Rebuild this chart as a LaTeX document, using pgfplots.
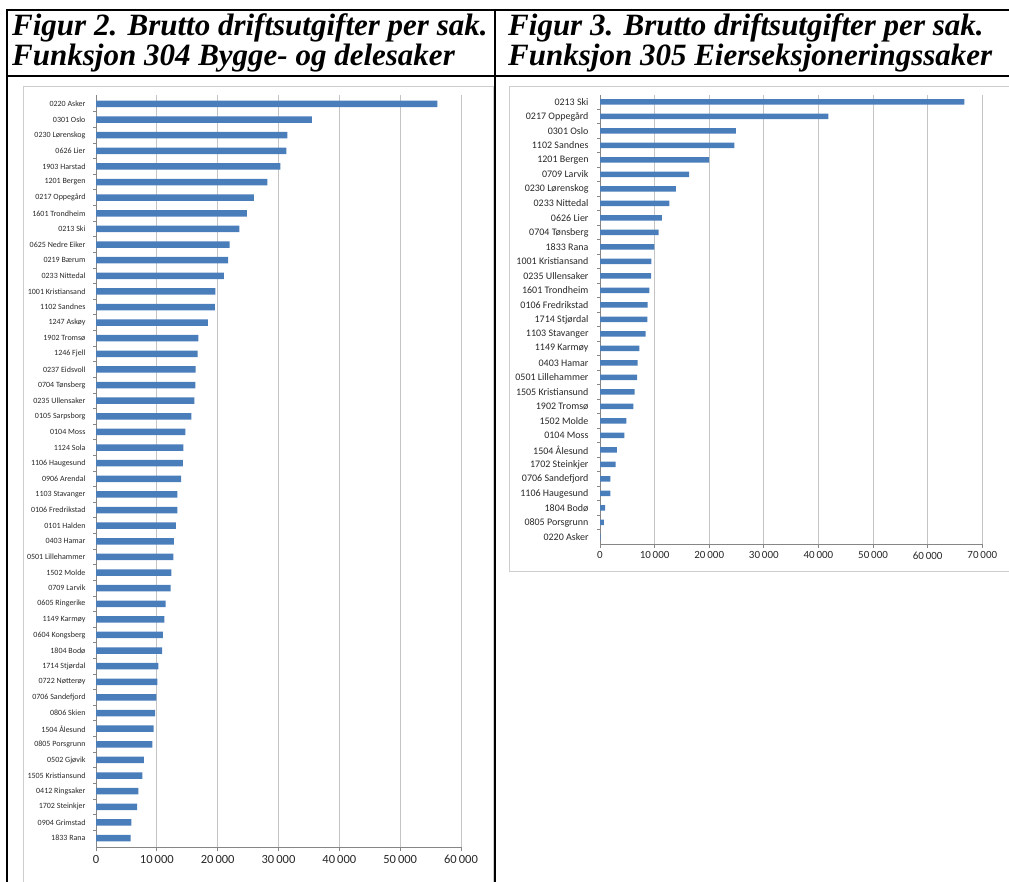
\documentclass[border=0pt]{standalone}
\usepackage{pgfplots}
\pgfplotsset{compat=1.18}
\usepackage{pgfplotstable}
\usepackage{fontspec}
\setmainfont{Liberation Serif}
\newfontfamily\calibri{Carlito}

\definecolor{barblue}{RGB}{74,126,187}
\definecolor{gridgray}{RGB}{196,196,196}
\definecolor{axisgray}{RGB}{134,134,134}
\definecolor{framegray}{RGB}{205,205,205}
\definecolor{labelgray}{RGB}{40,40,40}

% Figur 2: funksjon 304
\pgfplotstableread[col sep=comma]{
label,value
0220 Asker,56100
0301 Oslo,35500
0230 Lørenskog,31450
0626 Lier,31290
1903 Harstad,30300
1201 Bergen,28170
0217 Oppegård,25970
1601 Trondheim,24820
0213 Ski,23560
0625 Nedre Eiker,21980
0219 Bærum,21700
0233 Nittedal,21040
1001 Kristiansand,19620
1102 Sandnes,19560
1247 Askøy,18410
1902 Tromsø,16820
1246 Fjell,16710
0237 Eidsvoll,16380
0704 Tønsberg,16330
0235 Ullensaker,16160
0105 Sarpsborg,15670
0104 Moss,14680
1124 Sola,14360
1106 Haugesund,14300
0906 Arendal,13990
1103 Stavanger,13370
0106 Fredrikstad,13370
0101 Halden,13150
0403 Hamar,12820
0501 Lillehammer,12710
1502 Molde,12380
0709 Larvik,12270
0605 Ringerike,11450
1149 Karmøy,11230
0604 Kongsberg,11010
1804 Bodø,10850
1714 Stjørdal,10240
0722 Nøtterøy,10080
0706 Sandefjord,9910
0806 Skien,9700
1504 Ålesund,9480
0805 Porsgrunn,9260
0502 Gjøvik,7890
1505 Kristiansund,7620
0412 Ringsaker,6960
1702 Steinkjer,6740
0904 Grimstad,5810
1833 Rana,5700
}\lefttbl

% Figur 3: funksjon 305
\pgfplotstableread[col sep=comma]{
label,value
0213 Ski,66700
0217 Oppegård,41800
0301 Oslo,24900
1102 Sandnes,24600
1201 Bergen,20000
0709 Larvik,16300
0230 Lørenskog,13900
0233 Nittedal,12700
0626 Lier,11350
0704 Tønsberg,10750
1833 Rana,9950
1001 Kristiansand,9400
0235 Ullensaker,9340
1601 Trondheim,9030
0106 Fredrikstad,8730
1714 Stjørdal,8670
1103 Stavanger,8370
1149 Karmøy,7200
0403 Hamar,6900
0501 Lillehammer,6780
1505 Kristiansund,6350
1902 Tromsø,6100
1502 Molde,4820
0104 Moss,4450
1504 Ålesund,3110
1702 Steinkjer,2870
0706 Sandefjord,1890
1106 Haugesund,1890
1804 Bodø,920
0805 Porsgrunn,730
0220 Asker,100
}\righttbl

\pgfplotsset{
  excelbar/.style={
    xbar, scale only axis, xmin=0,
    axis x line*=bottom, axis y line*=left,
    axis line style={axisgray, line width=0.8pt},
    xmajorgrids, major grid style={gridgray, line width=0.8pt},
    tick align=outside, major tick length=4pt, minor tick length=3pt,
    tick style={axisgray, line width=0.8pt},
    major y tick style={draw=none},
    minor y tick num=1,
    scaled x ticks=false,
    xticklabel style={text=labelgray},
    yticklabel style={text=labelgray},
  },
}

\begin{document}
\begin{tikzpicture}[x=1pt,y=1pt]
\useasboundingbox (0,0) rectangle (1009,881);

% chart frames
\draw[framegray, line width=1pt] (23,-10) -- (23,794) -- (493,794) -- (493,-10);
\draw[framegray, line width=1pt] (1020,309) -- (509,309) -- (509,794) -- (1020,794);

% Figur 2
\begin{axis}[excelbar,
    at={(96pt,33.6pt)}, anchor=south west,
    width=365pt, height=752.8pt,
    xmax=60000, ymin=-0.6, ymax=47.6,
    bar width=6.5pt,
    xtick={0,10000,...,60000},
    xticklabels={0,10\,000,20\,000,30\,000,40\,000,50\,000,60\,000},
    xticklabel style={font=\calibri\fontsize{12.5}{12.5}\selectfont},
    ytick={0,...,47},
    yticklabel={\pgfmathtruncatemacro\r{47-\ticknum}\pgfplotstablegetelem{\r}{label}\of\lefttbl\pgfplotsretval},
    yticklabel style={font=\calibri\fontsize{8}{8}\selectfont, xshift=-3pt},
  ]
  \addplot[fill=barblue, draw=none] table[x=value, y expr=47-\coordindex] {\lefttbl};
\end{axis}

% Figur 3
\begin{axis}[excelbar,
    at={(600pt,336.75pt)}, anchor=south west,
    width=382.3pt, height=449.5pt,
    xmax=70000, ymin=-0.5, ymax=30.5,
    bar width=5.5pt,
    xtick={0,10000,...,70000},
    xticklabels={0,10\,000,20\,000,30\,000,40\,000,50\,000,60\,000,70\,000},
    xticklabel style={font=\calibri\fontsize{11}{11}\selectfont},
    ytick={0,...,30},
    yticklabel={\pgfmathtruncatemacro\r{30-\ticknum}\pgfplotstablegetelem{\r}{label}\of\righttbl\pgfplotsretval},
    yticklabel style={font=\calibri\fontsize{10}{10}\selectfont, xshift=-4pt},
  ]
  \addplot[fill=barblue, draw=none] table[x=value, y expr=30-\coordindex] {\righttbl};
\end{axis}

% table rules
\draw[black, line width=2pt] (7,871) -- (1012,871);
\draw[black, line width=2pt] (7,805) -- (1012,805);
\draw[black, line width=2pt] (7,872) -- (7,-5);
\draw[black, line width=2pt] (495,872) -- (495,-5);

% titles
\node[anchor=base west, inner sep=0pt, font=\bfseries\itshape\fontsize{31}{31}\selectfont] at (12,845) {Figur 2. Brutto driftsutgifter per sak.};
\node[anchor=base west, inner sep=0pt, font=\bfseries\itshape\fontsize{31}{31}\selectfont] at (12,815) {Funksjon 304 Bygge- og delesaker};
\node[anchor=base west, inner sep=0pt, font=\bfseries\itshape\fontsize{31}{31}\selectfont] at (508,845) {Figur 3. Brutto driftsutgifter per sak.};
\node[anchor=base west, inner sep=0pt, font=\bfseries\itshape\fontsize{31}{31}\selectfont] at (508,815) {Funksjon 305 Eierseksjoneringssaker};
\end{tikzpicture}
\end{document}
